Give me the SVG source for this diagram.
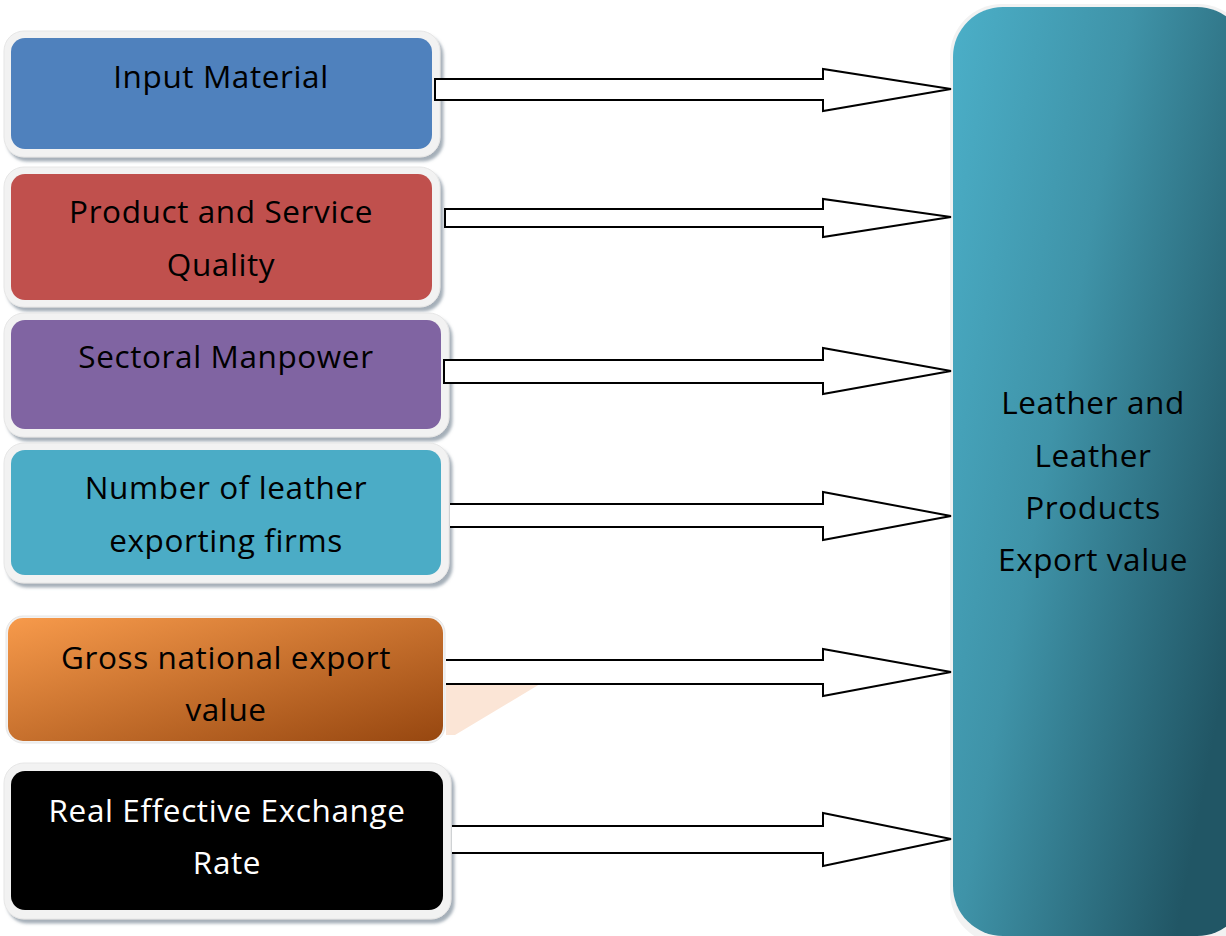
<svg xmlns="http://www.w3.org/2000/svg" width="1226" height="936" viewBox="0 0 1226 936">
<defs>
<linearGradient id="gOrange" x1="0" y1="0" x2="1" y2="1">
<stop offset="0" stop-color="#F79A4B"/><stop offset="1" stop-color="#974710"/>
</linearGradient>
<linearGradient id="gTeal" x1="0" y1="0" x2="1" y2="0.6">
<stop offset="0" stop-color="#4BAFC8"/><stop offset="0.45" stop-color="#3F93A8"/><stop offset="1" stop-color="#215665"/>
</linearGradient>
<filter id="sh" x="-5%" y="-5%" width="115%" height="120%">
<feDropShadow dx="3" dy="4" stdDeviation="1.5" flood-color="#6a7a8a" flood-opacity="0.6"/>
</filter>
</defs>
<style>
.frame{fill:#F2F2F2;stroke:#E6E6E6;stroke-width:1}
.lbl{font-family:"Open Sans","Liberation Sans",sans-serif;font-size:31.5px;letter-spacing:0.6px;text-anchor:middle;fill:#000}
.arr{fill:#FFFFFF;stroke:#000;stroke-width:2;stroke-linejoin:miter}
</style>
<g id="n1">
<rect class="frame" x="4" y="31" width="436" height="126" rx="20" filter="url(#sh)"/>
<rect x="11" y="38" width="421" height="111" rx="14" fill="#4F81BD"/>
<text class="lbl" x="221" y="88">Input Material</text>
</g>
<g id="n2">
<rect class="frame" x="4" y="167" width="436" height="140" rx="20" filter="url(#sh)"/>
<rect x="11" y="174" width="421" height="126" rx="14" fill="#C0504D"/>
<text class="lbl" x="221" y="223">Product and Service</text>
<text class="lbl" x="221" y="276">Quality</text>
</g>
<g id="n3">
<rect class="frame" x="4" y="313" width="445" height="124" rx="20" filter="url(#sh)"/>
<rect x="11" y="320" width="430" height="109" rx="14" fill="#8064A2"/>
<text class="lbl" x="226" y="368">Sectoral Manpower</text>
</g>
<g id="n4">
<rect class="frame" x="4" y="443" width="445" height="140" rx="20" filter="url(#sh)"/>
<rect x="11" y="450" width="430" height="125" rx="14" fill="#4BACC6"/>
<text class="lbl" x="226" y="499">Number of leather</text>
<text class="lbl" x="226" y="552">exporting firms</text>
</g>
<g id="n5">
<polygon points="446,684 540,684 455,735 446,735" fill="#FBE5D6"/>
<rect x="6" y="616" width="439" height="127" rx="17" fill="#F2F2F2" stroke="#E6E6E6"/>
<rect x="8" y="618" width="435" height="123" rx="15" fill="url(#gOrange)"/>
<text class="lbl" x="226" y="669">Gross national export</text>
<text class="lbl" x="226" y="721">value</text>
</g>
<g id="n6">
<rect class="frame" x="4" y="763" width="447" height="156" rx="20" filter="url(#sh)"/>
<rect x="11" y="771" width="432" height="139" rx="14" fill="#000000"/>
<text class="lbl" x="227" y="822" style="fill:#FFFFFF">Real Effective Exchange</text>
<text class="lbl" x="227" y="874" style="fill:#FFFFFF">Rate</text>
</g>
<g id="target">
<rect x="950" y="4" width="300" height="940" rx="52" fill="#F2F2F2"/>
<rect x="953" y="7" width="294" height="929" rx="50" fill="url(#gTeal)"/>
<text class="lbl" x="1093" y="414">Leather and</text>
<text class="lbl" x="1093" y="467">Leather</text>
<text class="lbl" x="1093" y="519">Products</text>
<text class="lbl" x="1093" y="571">Export value</text>
</g>
<g id="connectors">
<polygon class="arr" points="435,79 823,79 823,69 951,89 823,111 823,100 435,100"/>
<polygon class="arr" points="445,209 823,209 823,199 951,217 823,237 823,227 445,227"/>
<polygon class="arr" points="444,360 823,360 823,348 951,371 823,394 823,383 444,383"/>
<path class="arr" d="M450,504 H823 V492 L951,516 L823,540 V527 H450"/>
<path class="arr" d="M446,660 H823 V649 L951,672 L823,696 V684 H446"/>
<path class="arr" d="M452,826 H823 V813 L951,839 L823,866 V853 H452"/>
</g>
</svg>
